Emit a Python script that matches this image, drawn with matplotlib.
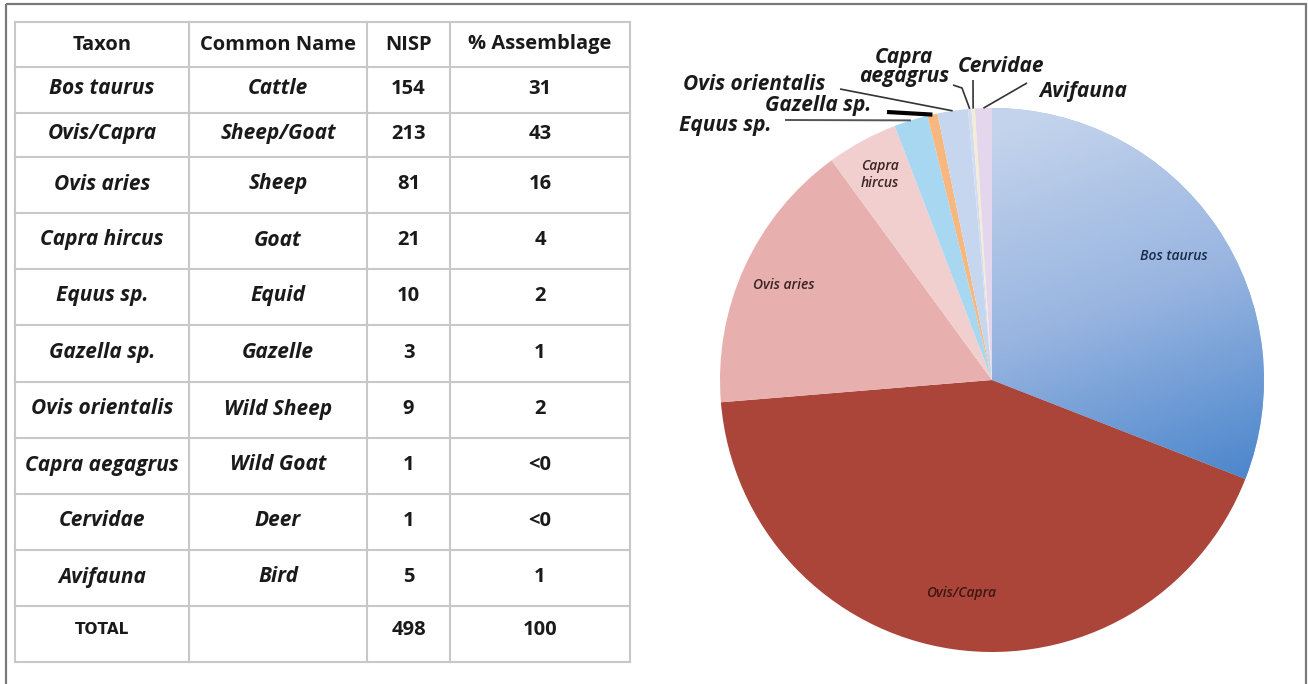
import numpy as np
import matplotlib
matplotlib.use("Agg")
import matplotlib.pyplot as plt
from matplotlib.colors import LinearSegmentedColormap

# table / pie data
taxa = ["Bos taurus", "Ovis/Capra", "Ovis aries", "Capra hircus", "Equus sp.",
        "Gazella sp.", "Ovis orientalis", "Capra aegagrus", "Cervidae", "Avifauna"]
common = ["Cattle", "Sheep/Goat", "Sheep", "Goat", "Equid",
          "Gazelle", "Wild Sheep", "Wild Goat", "Deer", "Bird"]
nisp = [154, 213, 81, 21, 10, 3, 9, 1, 1, 5]
pct = ["31", "43", "16", "4", "2", "1", "2", "<0", "<0", "1"]
headers = ["Taxon", "Common Name", "NISP", "% Assemblage"]
wedge_colors = ["#9db8e0", "#ab4439", "#e7afad", "#f1cfce", "#a8d7f2",
                "#f7b880", "#c6d6ef", "#d3dcf0", "#f4ecd3", "#e4d6ed"]

W, H = 1308, 684
FONT = "Open Sans"
INK = "#1a1a1a"

fig = plt.figure(figsize=(W / 100, H / 100), dpi=100)
canvas = fig.add_axes([0, 0, 1, 1])
canvas.set_xlim(0, W); canvas.set_ylim(H, 0)
canvas.axis("off")
canvas.set_zorder(2)
canvas.patch.set_alpha(0)

# outer frame
canvas.add_patch(plt.Rectangle((6, 4), 1300, 700, fill=False, ec="#7a7a7a", lw=1.6))

# ---- table ----
cols = [15, 189, 367, 450, 630]
rows = [22, 67, 113, 157, 213, 269, 325, 382, 438, 494, 550, 606, 662]
grid = "#c8c8c8"
for x in cols:
    canvas.plot([x, x], [rows[0], rows[-1]], color=grid, lw=1.5)
for y in rows:
    canvas.plot([cols[0], cols[-1]], [y, y], color=grid, lw=1.5)

cx = [(a + b) / 2 for a, b in zip(cols[:-1], cols[1:])]
cy = [(a + b) / 2 for a, b in zip(rows[:-1], rows[1:])]

for x, h in zip(cx, headers):
    canvas.text(x, cy[0], h, ha="center", va="center", family=FONT,
                weight="bold", fontsize=14.5, color=INK)
for i in range(len(taxa)):
    y = cy[i + 1] - 1
    canvas.text(cx[0], y, taxa[i], ha="center", va="center", family=FONT,
                weight="bold", style="italic", fontsize=15, color=INK)
    canvas.text(cx[1], y, common[i], ha="center", va="center", family=FONT,
                weight="bold", style="italic", fontsize=15, color=INK)
    canvas.text(cx[2], y, str(nisp[i]), ha="center", va="center", family=FONT,
                weight="bold", fontsize=14.5, color=INK)
    canvas.text(cx[3], y, pct[i], ha="center", va="center", family=FONT,
                weight="bold", fontsize=14.5, color=INK)
ty = cy[-1] - 4
canvas.text(cx[0], ty, "TOTAL", ha="center", va="center", family="DejaVu Sans",
            weight="bold", fontsize=11, color=INK)
canvas.text(cx[2], ty, str(sum(nisp)), ha="center", va="center", family=FONT,
            weight="bold", fontsize=14.5, color=INK)
canvas.text(cx[3], ty, "100", ha="center", va="center", family=FONT,
            weight="bold", fontsize=14.5, color=INK)

# ---- pie ----
PX, PY, R = 992, 380, 272
ax = fig.add_axes([(PX - R) / W, (H - PY - R) / H, 2 * R / W, 2 * R / H])
wedges, _ = ax.pie(nisp, colors=wedge_colors, startangle=90, counterclock=False,
                   radius=1, wedgeprops=dict(linewidth=0))
ax.set_xlim(-1, 1); ax.set_ylim(-1, 1)
ax.axis("off")

# gradient on the Bos taurus wedge
blue = LinearSegmentedColormap.from_list("bos", ["#c3d3ec", "#97b4e0", "#4b86cc"])
yy, xx = np.mgrid[1:-1:300j, -1:1:300j]
grad = np.clip((0.35 * xx - yy + 0.9) / 1.6, 0, 1)
img = ax.imshow(grad, cmap=blue, extent=(-1, 1, -1, 1), vmin=0, vmax=1,
                zorder=wedges[0].get_zorder() + 0.1)
img.set_clip_path(wedges[0])


def mid(w):
    return np.deg2rad((w.theta1 + w.theta2) / 2)


# inner labels: (index, radius, text, colour)
inner = [(0, 0.81, "Bos taurus", "#1c2a4a"),
         (1, 0.79, "Ovis/Capra", "#3d1712"),
         (2, 0.84, "Ovis aries", "#3b2424"),
         (3, 0.86, "Capra\nhircus", "#3b2424")]
for i, r, txt, c in inner:
    a = mid(wedges[i])
    ax.text(r * np.cos(a), r * np.sin(a), txt, ha="center", va="center",
            family=FONT, style="italic", weight="semibold", fontsize=10,
            color=c, linespacing=1.3)


def rim(i):
    a = mid(wedges[i])
    return PX + R * np.cos(a), PY - R * np.sin(a)


# outer labels with leader lines (label pos in pixels, leader start)
outer = [(4, (725, 125), "Equus sp.", [(785, 120)], "#555555", 1.4),
         (5, (818, 106), "Gazella sp.", [(887, 112)], "black", 3.0),
         (6, (754, 85), "Ovis orientalis", [(840, 89)], "#333333", 1.2),
         (7, (904, 67), "Capra\naegagrus", [(953, 85), (962, 88)], "#333333", 1.2),
         (8, (1001, 67), "Cervidae", [(973, 80)], "#333333", 1.2),
         (9, (1083, 91), "Avifauna", [(1027, 83)], "#333333", 1.2)]
for i, pos, txt, pts, c, lw in outer:
    canvas.text(pos[0], pos[1], txt, ha="center", va="center", family=FONT,
                weight="bold", style="italic", fontsize=15, color=INK,
                linespacing=0.85)
    ex, ey = rim(i)
    xs = [p[0] for p in pts] + [ex]
    ys = [p[1] for p in pts] + [ey]
    canvas.plot(xs, ys, color=c, lw=lw, solid_capstyle="butt")

fig.savefig("out.png", dpi=100)
